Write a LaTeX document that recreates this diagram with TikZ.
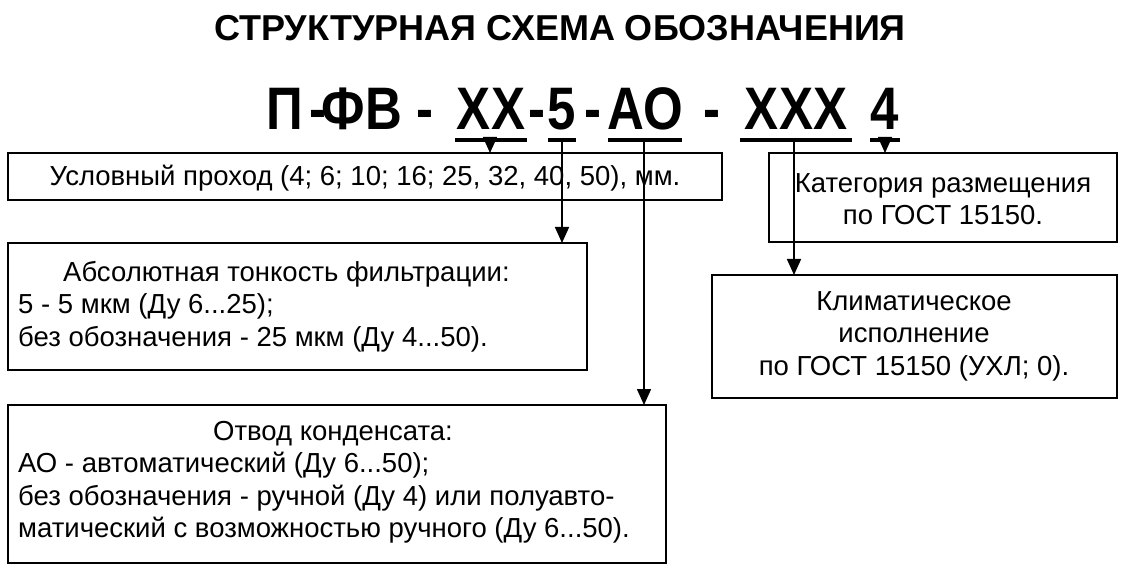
\documentclass[tikz,border=0pt]{standalone}
\usepackage{fontspec}
\setmainfont{Liberation Sans}
\usetikzlibrary{arrows.meta}
\begin{document}
\begin{tikzpicture}[x=1pt,y=-1pt,
    box/.style={draw,line width=1.6pt,inner sep=0pt},
    code/.style={anchor=base,font=\fontsize{60}{60}\bfseries\selectfont,inner sep=0pt},
    txt/.style={font=\fontsize{27.5}{32.5}\selectfont,align=left,anchor=north west,inner sep=0pt},
    uline/.style={line width=4pt},
    arr/.style={line width=1.6pt,-{Triangle[length=16pt,width=14pt]}}]
  \useasboundingbox (0,0) rectangle (1127,577);

  % Title
  \node[font=\fontsize{36}{36}\bfseries\selectfont] (title) at (560,28) {СТРУКТУРНАЯ СХЕМА ОБОЗНАЧЕНИЯ};

  % Code
  \newcommand\narrow[1]{\scalebox{0.85}[1]{#1}}
  \node[code] (p) at (285,130) {\narrow{П}};
  \node[code] (d1) at (318,130) {\narrow{-}};
  \node[code] (fv) at (362,130) {\narrow{ФВ}};
  \node[code] (d2) at (425,130) {\narrow{-}};
  \node[code] (xx) at (491,130) {\narrow{XX}};
  \node[code] (d3) at (537,130) {\narrow{-}};
  \node[code] (five) at (562,130) {\narrow{5}};
  \node[code] (d4) at (593,130) {\narrow{-}};
  \node[code] (ao) at (645,130) {\narrow{АО}};
  \node[code] (d5) at (712,130) {\narrow{-}};
  \node[code] (xxx) at (796,130) {\narrow{XXX}};
  \node[code] (four) at (885,130) {\narrow{4}};

  \foreach \a/\b in {455/527, 548/576, 608/682, 740/852, 870/900}
    \draw[uline] (\a,140) -- (\b,140);

  % Boxes
  \draw[box] (8,153) rectangle (722,200);
  \node[txt,anchor=center] (b1) at (365,178) {Условный проход (4; 6; 10; 16; 25, 32, 40, 50), мм.};
  \draw[box] (8,243) rectangle (587,370);
  \node[txt] (b2) at (18,261) {\hspace*{45pt}Абсолютная тонкость фильтрации:\\5 - 5 мкм (Ду 6...25);\\без обозначения - 25 мкм (Ду 4...50).};
  \draw[box] (8,405) rectangle (666,563);
  \node[txt] (b3) at (18,421) {\hspace*{195pt}Отвод конденсата:\\АО - автоматический (Ду 6...50);\\без обозначения - ручной (Ду 4) или полуавто-\\матический с возможностью ручного (Ду 6...50).};
  \draw[box] (769,153) rectangle (1117,242);
  \node[txt,align=center,anchor=center] (b4) at (943,199) {Категория размещения\\по ГОСТ 15150.};
  \draw[box] (712,275) rectangle (1117,398);
  \node[txt,align=center,anchor=center] (b5) at (914,336) {Климатическое\\исполнение\\по ГОСТ 15150 (УХЛ; 0).};

  % Arrows
  \draw[arr] (490,142) -- (490,153);
  \draw[arr] (562,142) -- (562,243);
  \draw[arr] (644,142) -- (644,405);
  \draw[arr] (794,142) -- (794,275);
  \draw[arr] (885,142) -- (885,153);
\end{tikzpicture}
\end{document}
